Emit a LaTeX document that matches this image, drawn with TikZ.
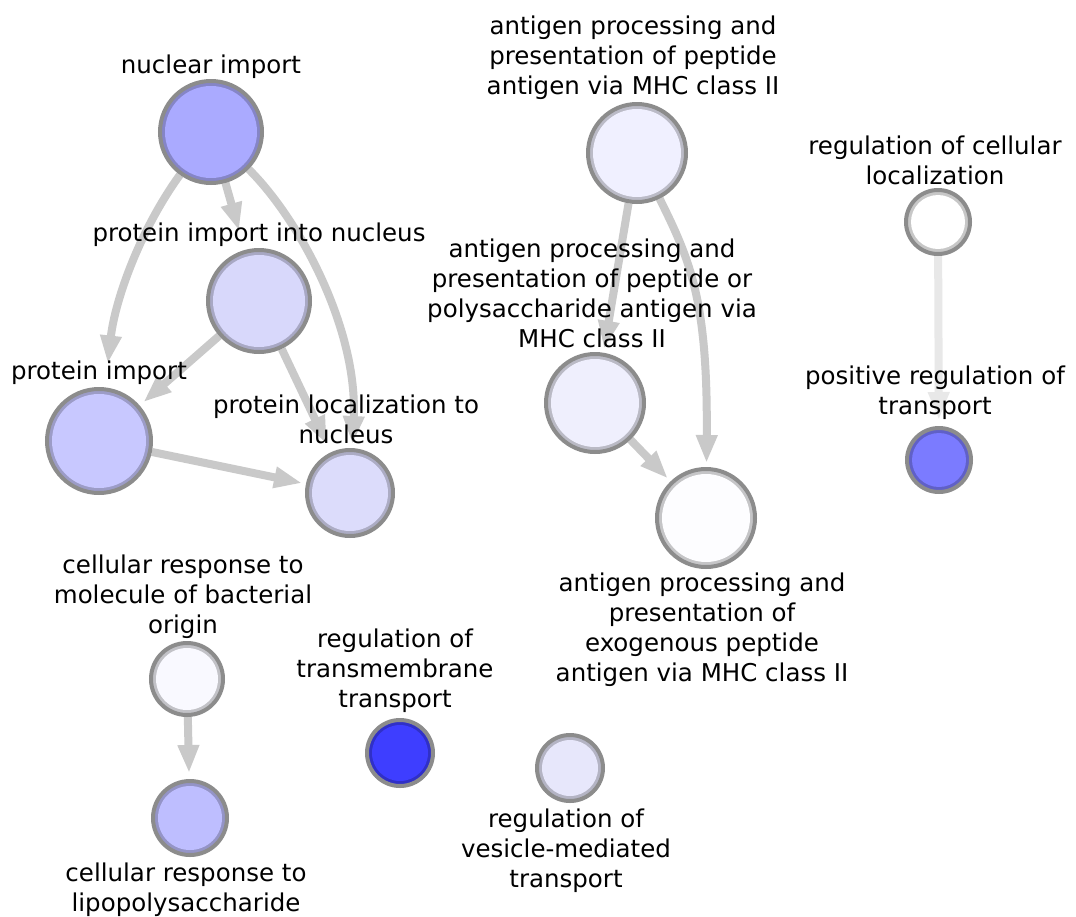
\documentclass[tikz,border=0pt]{standalone}
\usepackage{fontspec}
\setmainfont{DejaVu Sans}
\usetikzlibrary{arrows.meta}
\pgfdeclarelayer{paper}
\pgfdeclarelayer{edges}
\pgfsetlayers{paper,edges,main}
\definecolor{ringgray}{HTML}{8C8C8C}
\definecolor{edgegray}{HTML}{C9C9C9}
\definecolor{edgelight}{HTML}{E8E8E8}
\definecolor{cNI}{HTML}{AAAAFF}
\definecolor{cPIIN}{HTML}{D8D8FB}
\definecolor{cPI}{HTML}{C8C8FF}
\definecolor{cPLN}{HTML}{DCDCFB}
\definecolor{cAPA}{HTML}{F0F0FF}
\definecolor{cAPP}{HTML}{EFEFFD}
\definecolor{cAPE}{HTML}{FDFDFF}
\definecolor{cRCL}{HTML}{FFFFFF}
\definecolor{cPRT}{HTML}{7B7BFF}
\definecolor{cCRM}{HTML}{F9F9FF}
\definecolor{cCRL}{HTML}{BEBEFF}
\definecolor{cRTT}{HTML}{3E3EFF}
\definecolor{cRVT}{HTML}{E7E7FB}
\newcommand\lblfont{\fontsize{24.5}{30}\selectfont}
\tikzset{
  gn/.style 2 args={circle, draw=ringgray, line width=4pt, inner sep=0pt,
    minimum size={(2*#2-4)*1pt}, fill={#1!78!black},
    path picture={\fill[#1] (path picture bounding box.center) circle ({(#2-7)*1pt});}},
  lab/.style={align=center, font=\lblfont, inner sep=0pt, text=black},
  edge/.style={draw=edgegray, line width=8pt, -{Triangle[width=20pt,length=28pt]}},
  edgel/.style={draw=edgelight, line width=8pt, -{Triangle[width=20pt,length=28pt]}}
}
\begin{document}
\begin{tikzpicture}[x=1pt,y=-1pt]
\begin{pgfonlayer}{paper}
\fill[white] (0,0) rectangle (1076,916);
\end{pgfonlayer}
\useasboundingbox (0,0) rectangle (1076,916);

\node[gn={cNI}{53}] (ni) at (211,132) {};
\node[gn={cPIIN}{53}] (piin) at (259,301) {};
\node[gn={cPI}{54}] (pi) at (99,441) {};
\node[gn={cPLN}{45}] (pln) at (350,493) {};
\node[gn={cAPA}{51}] (apa) at (637,153) {};
\node[gn={cAPP}{51}] (app) at (595,403) {};
\node[gn={cAPE}{51}] (ape) at (706,518) {};
\node[gn={cRCL}{34}] (rcl) at (938,222) {};
\node[gn={cPRT}{34}] (prt) at (939,460) {};
\node[gn={cCRM}{38}] (crm) at (187,679) {};
\node[gn={cCRL}{39}] (crl) at (190,818) {};
\node[gn={cRTT}{35}] (rtt) at (400,753) {};
\node[gn={cRVT}{35}] (rvt) at (570,768) {};

\begin{pgfonlayer}{edges}
\draw[edge, shorten >=20pt] (ni) -- (piin);
\draw[edge, shorten >=24pt] (ni) .. controls (140,230) and (115,300) .. (pi);
\draw[edge, shorten >=4pt] (ni) .. controls (300,220) and (358,330) .. (pln);
\draw[edge, shorten >=5pt] (piin) -- (pi);
\draw[edge, shorten >=9pt] (piin) -- (pln);
\draw[edge, shorten >=4pt] (pi) -- (pln);
\draw[edge, shorten >=4pt] (apa) -- (app);
\draw[edge, shorten >=4pt] (apa) .. controls (690,260) and (708,300) .. (ape);
\draw[edge, shorten >=4pt] (app) -- (ape);
\draw[edgel, shorten >=6pt] (rcl) -- (prt);
\draw[edge, shorten >=6pt] (crm) -- (crl);
\end{pgfonlayer}

% labels
\node[lab] (l-ni) at (211,67) {nuclear import};
\node[lab] (l-piin) at (259,235) {protein import into nucleus};
\node[lab] (l-pi) at (99,373) {protein import};
\node[lab] (l-pln) at (346,419) {protein localization to\\nucleus};
\node[lab] (l-apa) at (633,58) {antigen processing and\\presentation of peptide\\antigen via MHC class II};
\node[lab] (l-app) at (592,293) {antigen processing and\\presentation of peptide or\\polysaccharide antigen via\\MHC class II};
\node[lab] (l-ape) at (702,630) {antigen processing and\\presentation of\\exogenous peptide\\antigen via MHC class II};
\node[lab] (l-rcl) at (935,160) {regulation of cellular\\localization};
\node[lab] (l-prt) at (935,393) {positive regulation of\\transport};
\node[lab] (l-crm) at (183,597) {cellular response to\\molecule of bacterial\\origin};
\node[lab] (l-crl) at (186,890) {cellular response to\\lipopolysaccharide};
\node[lab] (l-rtt) at (395,671) {regulation of\\transmembrane\\transport};
\node[lab] (l-rvt) at (566,851) {regulation of\\vesicle-mediated\\transport};
\end{tikzpicture}
\end{document}
